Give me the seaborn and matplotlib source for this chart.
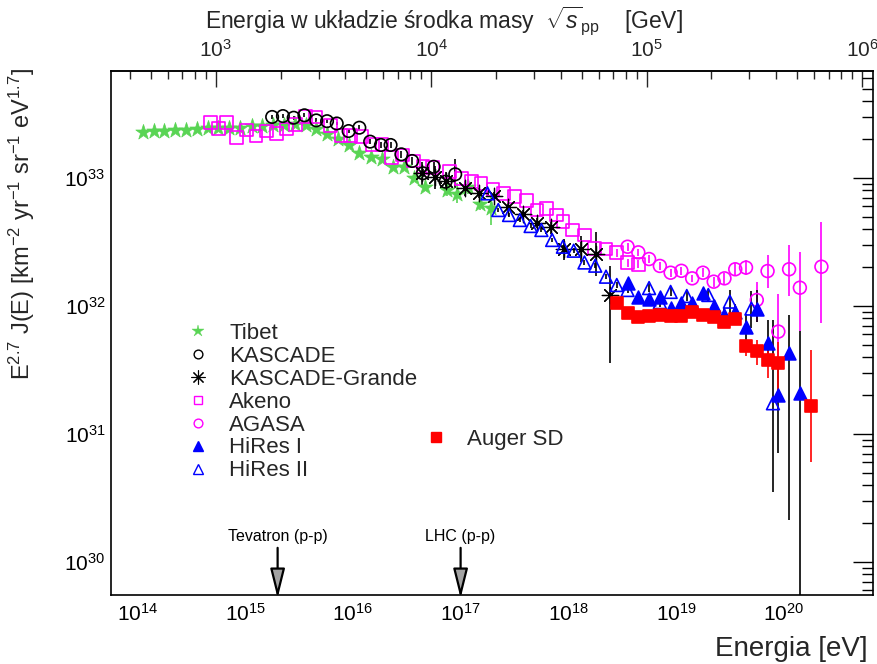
import numpy as np
import pandas as pd
import matplotlib
matplotlib.use("Agg")
import matplotlib.pyplot as plt
import seaborn as sns
from matplotlib.lines import Line2D
from matplotlib.ticker import FixedLocator, NullFormatter

# ---------------------------------------------------------------------------
# Cosmic-ray all-particle spectrum, log10(E/eV) and log10(E^2.7 J(E))
# ---------------------------------------------------------------------------
tibet_lgE = [14.05, 14.15, 14.25, 14.35, 14.45, 14.55, 14.65, 14.75, 14.85, 14.95,
             15.06, 15.16, 15.26, 15.36, 15.46, 15.56, 15.66, 15.76, 15.86, 15.96,
             16.06, 16.17, 16.27, 16.37, 16.47, 16.57, 16.67, 16.87, 16.97, 17.07,
             17.18, 17.28]
tibet_lgF = [33.359, 33.365, 33.367, 33.373, 33.377, 33.385, 33.390, 33.393, 33.393, 33.393,
             33.404, 33.410, 33.416, 33.416, 33.420, 33.416, 33.385, 33.347, 33.307, 33.258,
             33.195, 33.167, 33.148, 33.088, 33.088, 32.998, 32.932, 32.906, 32.873, 32.932,
             32.800, 32.763]
tibet_up = [0, 0, 0, 0, 0, 0, 0, 0, 0, 0, 0, 0, 0, 0, 0, 0, 0, 0, 0, 0,
            0, 0, 0, 0, 0, 0.02, 0.03, 0.05, 0.09, 0.06, 0.09, 0.09]
tibet_dn = [0, 0, 0, 0, 0, 0, 0, 0, 0, 0, 0, 0, 0, 0, 0, 0, 0, 0, 0, 0,
            0, 0, 0, 0, 0, 0.02, 0.03, 0.05, 0.07, 0.06, 0.05, 0.13]

kascade_lgE = [15.25, 15.35, 15.45, 15.55, 15.66, 15.76, 15.85, 15.96, 16.06, 16.16,
               16.26, 16.35, 16.45, 16.55, 16.65, 16.75, 16.86, 16.95]
kascade_lgF = [33.477, 33.484, 33.471, 33.490, 33.450, 33.444, 33.426, 33.367, 33.393, 33.284,
               33.258, 33.258, 33.185, 33.133, 33.037, 33.088, 32.971, 33.029]
kascade_up = [0.015, 0.015, 0.015, 0.015, 0.015, 0.015, 0.015, 0.015, 0.02, 0.02,
              0.02, 0.02, 0.025, 0.03, 0.03, 0.04, 0.05, 0.12]
kascade_dn = [0.015, 0.015, 0.015, 0.015, 0.015, 0.015, 0.015, 0.015, 0.02, 0.02,
              0.02, 0.02, 0.025, 0.03, 0.03, 0.04, 0.05, 0.11]

grande_lgE = [16.64, 16.76, 16.86, 17.04, 17.17, 17.31, 17.44, 17.58, 17.71, 17.84,
              17.96, 18.12, 18.26, 18.39]
grande_lgF = [33.037, 33.005, 32.979, 32.920, 32.880, 32.860, 32.771, 32.719, 32.651, 32.615,
              32.443, 32.443, 32.406, 32.086]
grande_up = [0.09, 0.09, 0.07, 0.06, 0.04, 0.03, 0.03, 0.03, 0.04, 0.05, 0.08, 0.10, 0.17, 0.23]
grande_dn = [0.09, 0.09, 0.07, 0.06, 0.04, 0.03, 0.03, 0.03, 0.04, 0.05, 0.08, 0.10, 0.17, 0.53]

akeno_lgE = [14.68, 14.75, 14.83, 14.92, 15.01, 15.10, 15.20, 15.29, 15.38, 15.47,
             15.56, 15.65, 15.79, 15.89, 15.98, 16.08, 16.18, 16.27, 16.36, 16.46,
             16.56, 16.65, 16.74, 16.90, 17.01, 17.10, 17.19, 17.30, 17.40, 17.50,
             17.61, 17.71, 17.80, 17.89, 17.95, 18.04, 18.15, 18.24, 18.35, 18.45,
             18.55, 18.65]
akeno_lgF = [33.432, 33.388, 33.435, 33.318, 33.375, 33.328, 33.367, 33.349, 33.383, 33.420,
             33.480, 33.477, 33.410, 33.330, 33.330, 33.323, 33.263, 33.263, 33.159, 33.180,
             33.133, 33.088, 33.080, 33.050, 32.998, 32.971, 32.959, 32.912, 32.880, 32.854,
             32.823, 32.750, 32.763, 32.711, 32.659, 32.594, 32.555, 32.451, 32.445, 32.416,
             32.338, 32.326]
akeno_up = [0, 0, 0, 0, 0, 0, 0, 0, 0, 0, 0, 0, 0, 0, 0, 0, 0, 0, 0, 0, 0,
            0, 0, 0, 0, 0, 0, 0, 0, 0, 0, 0, 0, 0, 0, 0, 0, 0, 0, 0.03, 0.03, 0.03]
akeno_dn = [0, 0, 0, 0, 0, 0, 0, 0, 0, 0, 0, 0, 0, 0, 0, 0, 0, 0, 0, 0, 0,
            0, 0, 0, 0, 0, 0, 0, 0, 0, 0, 0, 0, 0, 0, 0, 0, 0, 0, 0.03, 0.03, 0.03]

agasa_lgE = [18.55, 18.65, 18.75, 18.85, 18.95, 19.05, 19.15, 19.25, 19.35, 19.45,
             19.55, 19.65, 19.75, 19.85, 19.95, 20.05, 20.15, 20.35]
agasa_lgF = [32.463, 32.419, 32.367, 32.313, 32.260, 32.275, 32.216, 32.260, 32.190, 32.216,
             32.287, 32.300, 32.047, 32.273, 31.800, 32.287, 32.143, 32.307]
agasa_up = [0.03, 0.03, 0.03, 0.03, 0.03, 0.03, 0.03, 0.035, 0.04, 0.045,
            0.05, 0.06, 0.14, 0.125, 0.29, 0.19, 0.28, 0.35]
agasa_dn = [0.03, 0.03, 0.03, 0.03, 0.03, 0.03, 0.03, 0.035, 0.04, 0.045,
            0.05, 0.06, 0.17, 0.135, 0.25, 0.21, 0.34, 0.44]

hires1_lgE = [18.55, 18.65, 18.75, 18.85, 18.95, 19.05, 19.15, 19.25, 19.35, 19.45,
              19.55, 19.65, 19.75, 19.85, 19.95, 20.05, 20.15]
hires1_lgF = [32.177, 32.073, 32.055, 32.073, 31.982, 32.026, 32.026, 32.104, 32.000, 31.930,
              31.955, 31.838, 31.973, 31.709, 31.305, 31.630, 31.318]
hires1_up = [0.03, 0.03, 0.03, 0.03, 0.03, 0.03, 0.03, 0.04, 0.04, 0.06,
             0.06, 0.10, 0.15, 0.18, 0.25, 0.30, 0.49]
hires1_dn = [0.03, 0.03, 0.03, 0.03, 0.03, 0.03, 0.03, 0.04, 0.04, 0.06,
             0.06, 0.10, 0.10, 0.15, 0.45, 1.30, 3.00]

hires2_lgE = [17.25, 17.35, 17.45, 17.55, 17.65, 17.75, 17.85, 17.95, 18.05, 18.15,
              18.25, 18.35, 18.45, 18.55, 18.75, 18.85, 18.95, 19.10, 19.30, 19.50,
              19.70, 19.90]
hires2_lgF = [32.880, 32.750, 32.711, 32.672, 32.625, 32.594, 32.516, 32.463, 32.432, 32.340,
              32.315, 32.229, 32.164, 32.125, 32.140, 32.030, 32.110, 32.078, 32.086, 32.034,
              31.980, 31.240]
hires2_up = [0.015, 0.015, 0.015, 0.015, 0.015, 0.015, 0.015, 0.015, 0.02, 0.02,
             0.02, 0.02, 0.025, 0.025, 0.03, 0.035, 0.035, 0.04, 0.05, 0.09,
             0.14, 0.65]
hires2_dn = [0.015, 0.015, 0.015, 0.015, 0.015, 0.015, 0.015, 0.015, 0.02, 0.02,
             0.02, 0.02, 0.025, 0.025, 0.03, 0.035, 0.035, 0.04, 0.05, 0.12,
             0.15, 0.69]

auger_lgE = [18.45, 18.55, 18.65, 18.75, 18.85, 18.95, 19.05, 19.15, 19.25, 19.35,
             19.45, 19.55, 19.65, 19.75, 19.85, 19.95, 20.25]
auger_lgF = [32.021, 31.948, 31.916, 31.922, 31.930, 31.924, 31.924, 31.955, 31.930, 31.916,
             31.877, 31.898, 31.688, 31.648, 31.578, 31.552, 31.219]
auger_up = [0.01, 0.01, 0.01, 0.01, 0.01, 0.01, 0.015, 0.015, 0.02, 0.02,
            0.03, 0.03, 0.05, 0.09, 0.07, 0.17, 0.44]
auger_dn = [0.01, 0.01, 0.01, 0.01, 0.01, 0.01, 0.015, 0.015, 0.02, 0.02,
            0.03, 0.03, 0.08, 0.11, 0.14, 0.25, 0.44]

# collider equivalent energies (fixed-target lab energy, eV)
collider_names = ["Tevatron (p-p)", "LHC (p-p)"]
collider_E = [2e15, 1e17]

# axis decades
energy_decades = [14, 15, 16, 17, 18, 19, 20]
flux_decades = [30, 31, 32, 33]
sqrts_decades = [3, 4, 5, 6]

PROTON_MASS_GEV = 0.938
E_MIN, E_MAX = 10 ** 13.754, 10 ** 20.829
F_MIN, F_MAX = 10 ** 29.742, 10 ** 33.836

# ---------------------------------------------------------------------------
sns.set_theme(style="white")
plt.rcParams["font.family"] = ["Liberation Sans", "DejaVu Sans"]
plt.rcParams["mathtext.fontset"] = "custom"
plt.rcParams["mathtext.rm"] = "Liberation Sans"
plt.rcParams["mathtext.it"] = "Liberation Sans:italic"
plt.rcParams["mathtext.bf"] = "Liberation Sans:bold"
plt.rcParams["mathtext.sf"] = "Liberation Sans"
plt.rcParams["axes.linewidth"] = 1.2

GREEN = "#59d454"
MAGENTA = "#ff00ff"
BLUE = "#0000ff"
RED = "#ff0000"
BLACK = "#000000"

fig = plt.figure(figsize=(8.78, 6.64), dpi=100)
ax = fig.add_axes([111 / 878, 69 / 664, 762 / 878, 524 / 664])
ax.set_xscale("log")
ax.set_yscale("log")


def draw_series(lgE, lgF, up, dn, color, marker, size, filled, ecolor=None, lw=1.2, z=3):
    lgE = np.asarray(lgE, float)
    lgF = np.asarray(lgF, float)
    up = np.asarray(up, float)
    dn = np.asarray(dn, float)
    E = 10.0 ** lgE
    F = 10.0 ** lgF
    yerr = np.vstack([F - 10.0 ** (lgF - dn), 10.0 ** (lgF + up) - F])
    ax.errorbar(E, F, yerr=yerr, fmt="none", ecolor=ecolor or color,
                elinewidth=1.2, capsize=0, zorder=z - 0.5)
    df = pd.DataFrame({"E": E, "F": F})
    kw = dict(marker=marker, s=size, linewidth=lw, zorder=z, legend=False)
    if filled:
        sns.scatterplot(data=df, x="E", y="F", ax=ax, color=color, edgecolor=color, **kw)
    else:
        sns.scatterplot(data=df, x="E", y="F", ax=ax, color=color,
                        facecolor="none", edgecolor=color, **kw)


draw_series(tibet_lgE, tibet_lgF, tibet_up, tibet_dn, GREEN, "*", 135, True, lw=0.5)
draw_series(akeno_lgE, akeno_lgF, akeno_up, akeno_dn, MAGENTA, "s", 85, False)
draw_series(kascade_lgE, kascade_lgF, kascade_up, kascade_dn, BLACK, "o", 80, False)
# asterisk is line art: its strokes take the face colour
draw_series(grande_lgE, grande_lgF, grande_up, grande_dn, BLACK, (8, 2, 0), 140, True, lw=0.9)
draw_series(agasa_lgE, agasa_lgF, agasa_up, agasa_dn, MAGENTA, "o", 85, False)
draw_series(hires2_lgE, hires2_lgF, hires2_up, hires2_dn, BLUE, "^", 85, False, ecolor=BLACK)
draw_series(hires1_lgE, hires1_lgF, hires1_up, hires1_dn, BLUE, "^", 85, True, ecolor=BLACK)
draw_series(auger_lgE, auger_lgF, auger_up, auger_dn, RED, "s", 70, True)

ax.set_xlim(E_MIN, E_MAX)
ax.set_ylim(F_MIN, F_MAX)
ax.set_xlabel("")
ax.set_ylabel("")


def log_ticks(decades, lo, hi):
    major = [10.0 ** d for d in decades]
    minor = [k * 10.0 ** d for d in range(min(decades) - 1, max(decades) + 1)
             for k in range(2, 10)]
    minor = [v for v in minor if lo <= v <= hi]
    return major, minor


# ticks inside the frame, ROOT style
xmaj, xmin = log_ticks(energy_decades, E_MIN, E_MAX)
ymaj, ymin = log_ticks(flux_decades, F_MIN, F_MAX)
ax.xaxis.set_major_locator(FixedLocator(xmaj))
ax.xaxis.set_minor_locator(FixedLocator(xmin))
ax.xaxis.set_minor_formatter(NullFormatter())
ax.yaxis.set_major_locator(FixedLocator(ymaj))
ax.yaxis.set_minor_locator(FixedLocator(ymin))
ax.yaxis.set_minor_formatter(NullFormatter())
ax.tick_params(which="both", direction="in", top=False, right=True,
               labelsize=15, width=1.0, colors="black")
ax.tick_params(axis="x", which="major", length=13, pad=6)
ax.tick_params(axis="x", which="minor", length=6.5)
ax.tick_params(axis="y", which="major", length=14.5, pad=4)
ax.tick_params(axis="y", which="minor", length=8)
for sp in ax.spines.values():
    sp.set_color("black")
    sp.set_linewidth(1.2)


# centre-of-mass energy axis on top
def to_sqrts(E):
    E = np.asarray(E, float)
    return np.sqrt(np.clip(2.0 * PROTON_MASS_GEV * E / 1e9, 1e-30, None))


def to_lab(s):
    s = np.asarray(s, float)
    return s ** 2 / (2.0 * PROTON_MASS_GEV) * 1e9


sec = ax.secondary_xaxis("top", functions=(to_sqrts, to_lab))
smaj, smin = log_ticks(sqrts_decades, float(to_sqrts(E_MIN)), float(to_sqrts(E_MAX)))
sec.xaxis.set_major_locator(FixedLocator(smaj))
sec.xaxis.set_minor_locator(FixedLocator(smin))
sec.xaxis.set_minor_formatter(NullFormatter())
sec.tick_params(which="both", direction="in", labelsize=15, width=1.0)
sec.tick_params(which="major", length=11.5, pad=7)
sec.tick_params(which="minor", length=5.5)
sec.spines["top"].set_linewidth(1.2)

# collider arrows
for name, E in zip(collider_names, collider_E):
    ax.annotate("", xy=(E, -0.006), xycoords=("data", "axes fraction"),
                xytext=(E, 0.09), textcoords=("data", "axes fraction"),
                arrowprops=dict(arrowstyle="-|>,head_length=1.8,head_width=0.45",
                                mutation_scale=10, fc="#a3a3a3", ec="black", lw=1.6,
                                shrinkA=0, shrinkB=0),
                annotation_clip=False, zorder=6)
    ax.annotate(name, xy=(E, 0.09), xycoords=("data", "axes fraction"),
                xytext=(0, 3), textcoords="offset points", ha="center", va="bottom",
                fontsize=11.5, color="black")


# legends
def handle(marker, color, filled, ms, mew=1.0):
    return Line2D([], [], linestyle="none", marker=marker, markersize=ms,
                  markeredgewidth=mew, markeredgecolor=color,
                  markerfacecolor=color if filled else "none")


main_handles = [
    handle("*", GREEN, True, 9, 0.3),
    handle("o", BLACK, False, 6.3),
    handle((8, 2, 0), BLACK, False, 10, 0.8),
    handle("s", MAGENTA, False, 6.3),
    handle("o", MAGENTA, False, 6.3),
    handle("^", BLUE, True, 6.5),
    handle("^", BLUE, False, 6.5),
]
main_labels = ["Tibet", "KASCADE", "KASCADE-Grande", "Akeno", "AGASA", "HiRes I", "HiRes II"]
leg = ax.legend(main_handles, main_labels, loc="upper left",
                bbox_to_anchor=(187 / 878, 1 - 323 / 664), bbox_transform=fig.transFigure,
                frameon=False, fontsize=16, handlelength=1.0, handletextpad=0.9,
                labelspacing=0.085, borderpad=0, borderaxespad=0)
ax.add_artist(leg)
ax.legend([handle("s", RED, True, 7.5)], ["Auger SD"], loc="upper left",
          bbox_to_anchor=(425 / 878, 1 - 429 / 664), bbox_transform=fig.transFigure,
          frameon=False, fontsize=16, handlelength=1.0, handletextpad=0.9,
          borderpad=0, borderaxespad=0)

# axis titles
fig.text(868 / 878, 1 - 656 / 664, "Energia [eV]", ha="right", va="baseline", fontsize=20)
fig.text(205 / 878, 1 - 28 / 664,
         r"Energia w układzie środka masy  $\sqrt{s}_{\mathrm{pp}}$    [GeV]",
         ha="left", va="baseline", fontsize=16.5)
fig.text(22 / 878, 1 - 68 / 664,
         r"E$^{2.7}$ J(E) [km$^{-2}$ yr$^{-1}$ sr$^{-1}$ eV$^{1.7}$]",
         rotation=90, ha="center", va="top", fontsize=17)

fig.savefig("out.png", dpi=100, facecolor="white")
